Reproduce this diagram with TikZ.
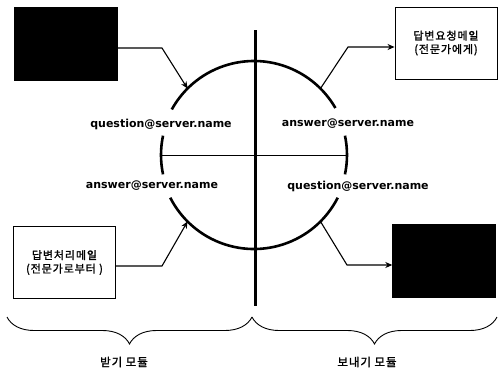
\documentclass[tikz,border=0pt]{standalone}
\usepackage{fontspec}
\newfontfamily\lab{DejaVu Sans}[BoldFont={DejaVu Sans Bold}]
\newfontfamily\kr{Noto Sans CJK KR}[FakeBold=1.5]
\newfontfamily\krsp{Noto Sans CJK KR}[FakeBold=1.5,LetterSpace=8]
\usetikzlibrary{decorations.pathreplacing,arrows.meta}
\begin{document}
\begin{tikzpicture}[x=1pt,y=-1pt,
  ring/.style={line width=2.6pt},
  link/.style={line width=1.1pt,-{Stealth[length=7pt,width=6pt]}},
  blackbox/.style={draw=black,fill=black,minimum width=103pt,minimum height=73pt,inner sep=0pt},
  whitebox/.style={draw=black,line width=0.9pt,fill=white,minimum width=102pt,minimum height=72pt,inner sep=0pt,align=center,font=\krsp\fontsize{11}{13.5}\selectfont},
  addr/.style={font=\lab\bfseries\fontsize{11}{13}\selectfont,inner sep=0pt},
  modlabel/.style={font=\krsp\fontsize{11.5}{13}\selectfont,inner sep=0pt},
  brc/.style={line width=0.9pt,decorate,decoration={brace,mirror,amplitude=27pt}}]
\useasboundingbox (0,0) rectangle (499,368);
\fill[white] (0,0) rectangle (499,368);
\coordinate (C) at (254,155);
% boxes
\node[blackbox] (b1) at (65.5,43.5) {};
\node[whitebox] (b2) at (446,43) {답변요청메일\\(전문가에게)};
\node[whitebox] (b3) at (64.5,262.5) {답변처리메일\\(전문가로부터 )};
\node[blackbox] (b4) at (444,261) {};
% ring
\draw[ring] ([shift={(-151:94)}]C) arc[start angle=-151,end angle=-30,radius=94];
\draw[ring] ([shift={(27:94)}]C) arc[start angle=27,end angle=153,radius=94];
\draw[ring] ([shift={(168:93)}]C) arc[start angle=168,end angle=192,radius=93];
\draw[ring] ([shift={(-12:93)}]C) arc[start angle=-12,end angle=12,radius=93];
\coordinate (hl) at ([shift={(180:93)}]C);
\coordinate (hr) at ([shift={(0:93)}]C);
\draw[line width=0.8pt] (hl) -- (hr);
\coordinate (vt) at (255,30);
\coordinate (vb) at (255,306);
\draw[line width=3pt] (vt) -- (vb);
% attach points
\coordinate (p1) at ([shift={(-135:94)}]C);
\coordinate (p2) at ([shift={(-45:94)}]C);
\coordinate (p3) at ([shift={(135:94)}]C);
\coordinate (p4) at ([shift={(45:94)}]C);
\coordinate (k1) at (162,48);
\coordinate (k2) at (348,47);
\coordinate (k3) at (162,266);
\coordinate (k4) at (347,265);
\draw[link] (b1.east |- k1) -- (k1) -- (p1);
\draw[link] (p2) -- (k2) -- (b2.west |- k2);
\draw[link] (b3.east |- k3) -- (k3) -- (p3);
\draw[link] (p4) -- (k4) -- (b4.west |- k4);
% labels
\node[addr] (l1) at (161,124) {question@server.name};
\node[addr] (l2) at (152,186) {answer@server.name};
\node[addr] (l3) at (348,124) {answer@server.name};
\node[addr] (l4) at (358,186) {question@server.name};
% braces
\coordinate (bl) at (7,317);
\coordinate (bm) at (252,317);
\coordinate (br) at (497,317);
\draw[brc] (bl) -- (bm);
\draw[brc] (bm) -- (br);
\node[modlabel] (m1) at (124,362) {받기 모듈};
\node[modlabel] (m2) at (367,362) {보내기 모듈};
\end{tikzpicture}
\end{document}
